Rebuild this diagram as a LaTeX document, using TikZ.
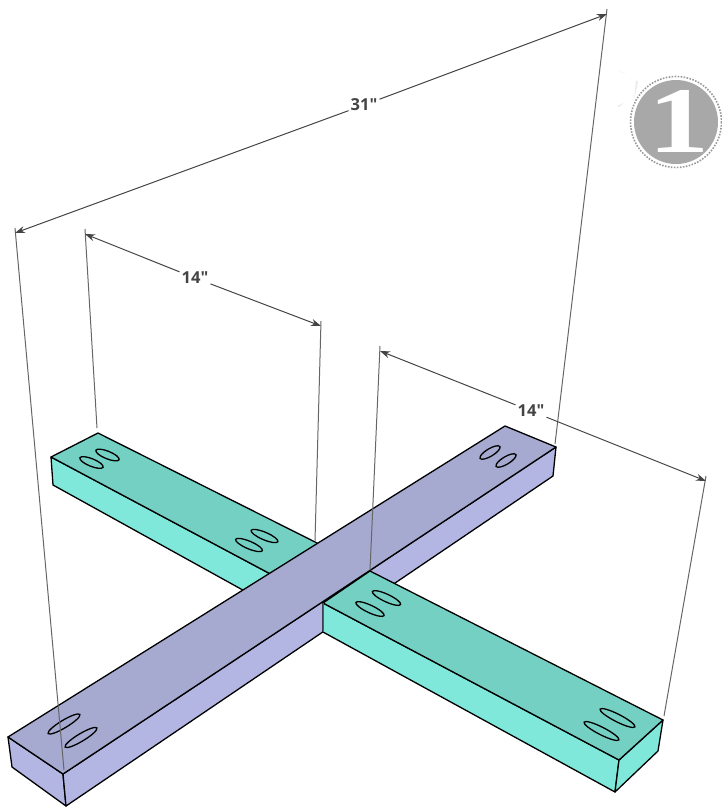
\documentclass[tikz,border=0pt]{standalone}
\usepackage{fontspec}
\newfontfamily\dimfont{Open Sans}
\newfontfamily\badgefont{Liberation Serif}
\usetikzlibrary{arrows.meta}
\definecolor{lilactop}{HTML}{A6A9D0}
\definecolor{lilacside}{HTML}{B3B6E3}
\definecolor{greentop}{HTML}{74D0C3}
\definecolor{greenside}{HTML}{80E8DB}
\definecolor{dimgrey}{HTML}{444444}
\tikzset{
  x=1pt,y=-1pt,
  edge/.style={draw=black,line width=1.3pt,line join=round},
  thinedge/.style={draw=black!65,line width=1pt},
  hole/.style={draw=black,line width=1.3pt,fill=none},
  dimseg/.style={draw=dimgrey,line width=1pt,{Stealth[length=10pt,width=7pt]}-},
  extline/.style={draw=black!60,line width=1pt},
  dimlabel/.style={font=\dimfont\bfseries\fontsize{16.5}{16.5}\selectfont,text=dimgrey,inner sep=2pt,fill=none},
}
\newcommand{\slot}[4]{\draw[hole,rotate around={-#4:(#1,#2)}] (#1,#2) ellipse [x radius=#3,y radius=3.8];}
\begin{document}
\begin{tikzpicture}
\useasboundingbox (0,0) rectangle (722,807);
% left arm of cross piece (runs on under the long beam)
\filldraw[edge,fill=greenside] (51,457) -- (278,578) -- (250,594) -- (53,485) -- cycle;
\filldraw[edge,fill=greentop] (98,433) -- (325,547) -- (278,578) -- (51,457) -- cycle;
\slot{91.5}{462.5}{12.5}{22}
\slot{107.5}{455}{12.5}{22}
\slot{249}{545}{14.5}{23}
\slot{264.5}{536}{14.5}{23}
% long beam
\filldraw[edge,fill=lilacside] (8,737) -- (63,774) -- (66,806) -- (12,767) -- cycle;
\filldraw[edge,fill=lilacside] (63,774) -- (556,447) -- (553,476) -- (66,806) -- cycle;
\filldraw[edge,fill=lilactop] (8,737) -- (505,426) -- (556,447) -- (63,774) -- cycle;
\slot{64}{724}{18.5}{-31}
\slot{81}{737.5}{18.5}{-31}
\slot{490}{452.5}{11.5}{-31}
\slot{506}{460.5}{11.5}{-31}
% right arm of cross piece
\filldraw[edge,fill=greenside] (323,603) -- (619,760) -- (615,792) -- (323,632) -- cycle;
\filldraw[edge,fill=greenside] (619,760) -- (663,720) -- (658,751) -- (615,792) -- cycle;
\filldraw[edge,fill=greentop] (370,571) -- (663,720) -- (619,760) -- (323,603) -- cycle;
\draw[thinedge] (323,603) -- (323,632);
\slot{370}{609}{15.5}{25}
\slot{386.5}{598}{15.5}{25}
\slot{601.5}{731}{19.5}{27}
\slot{617.5}{718}{19.5}{27}
% dimension anchors
\coordinate (a1) at (15,233);
\coordinate (a2) at (607,14);
\coordinate (a1f) at (64,770);
\coordinate (a2f) at (555,444);
\coordinate (b1) at (85,234);
\coordinate (b2) at (321,326);
\coordinate (b1f) at (97,428);
\coordinate (b2f) at (315,541);
\coordinate (c1) at (380,351);
\coordinate (c2) at (706,481);
\coordinate (c1f) at (370,570);
\coordinate (c2f) at (664,716);
\draw[extline] (15,228) -- (a1f);
\draw[extline] (607,9) -- (a2f);
\draw[extline] (85,229) -- (b1f);
\draw[extline] (321,321) -- (b2f);
\draw[extline] (380,346) -- (c1f);
\draw[extline] (706,476) -- (c2f);
\node[dimlabel] (l31) at (364,105) {31"};
\node[dimlabel] (l14a) at (195,278) {14"};
\node[dimlabel] (l14b) at (531,411) {14"};
\draw[dimseg] (a1) -- (l31);
\draw[dimseg] (a2) -- (l31);
\draw[dimseg] (b1) -- (l14a);
\draw[dimseg] (b2) -- (l14a);
\draw[dimseg] (c1) -- (l14b);
\draw[dimseg] (c2) -- (l14b);
% badge
\fill[black!8] (620,71) -- (626,74) -- (621,72) -- cycle;
\fill[black!8] (636,80) -- (638,82) -- (634,100) -- cycle;
\fill[black!8] (617,106) -- (624,103) -- (619,107) -- cycle;
\draw[black!40,line width=1.6pt,dash pattern=on 1.6pt off 1.4pt] (676,122) circle [radius=45.5];
\node[circle,fill=black!34,minimum size=84pt,inner sep=0pt] (badge) at (676,122) {};
\node[text=white,inner sep=0pt,xscale=1.3,font=\badgefont\bfseries\fontsize{94}{94}\selectfont] (one) at (679,121) {1};
\end{tikzpicture}
\end{document}
